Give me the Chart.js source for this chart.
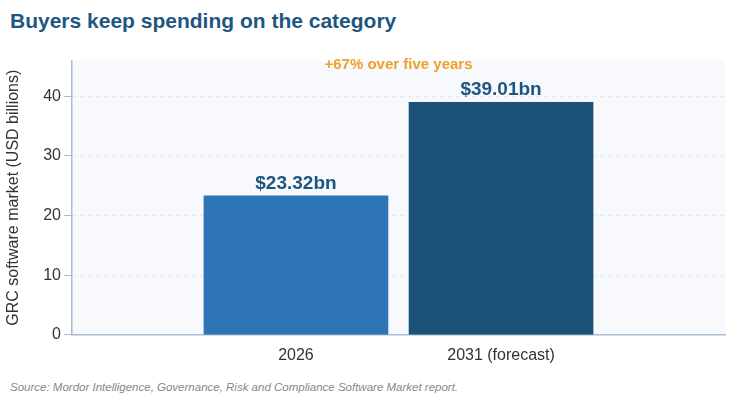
<!DOCTYPE html>
<html>
<head>
<meta charset="utf-8">
<script src="https://cdn.jsdelivr.net/npm/chart.js@4"></script>
<style>
  body { margin: 0; background: #fff; font-family: "Liberation Sans", Arial, sans-serif; }
  #wrap { position: relative; width: 743px; height: 400px; }
  h1 { position: absolute; left: 10px; top: 9px; margin: 0; font-size: 21px; font-weight: bold; color: #1f5680; }
  #box { position: absolute; left: 0; top: 48px; width: 735px; height: 320px; }
  .src { position: absolute; left: 10px; top: 381px; font-size: 11.5px; font-style: italic; color: #888; }
</style>
</head>
<body>
<div id="wrap">
  <h1>Buyers keep spending on the category</h1>
  <div id="box"><canvas id="c"></canvas></div>
  <div class="src">Source: Mordor Intelligence, Governance, Risk and Compliance Software Market report.</div>
</div>
<script>
const categories = ["2026", "2031 (forecast)"];
const marketValues = [23.32, 39.01];
const valueLabels = ["$23.32bn", "$39.01bn"];
const barColors = ["#2e75b6", "#1c5177"];
const yTicks = [0, 10, 20, 30, 40];
const growthNote = "+67% over five years";

const FONT = "'Liberation Sans', Arial, sans-serif";

// background + bar labels + note
const decor = {
  id: "decor",
  beforeDraw(chart) {
    const { ctx, chartArea: a } = chart;
    ctx.save();
    ctx.fillStyle = "#f7f9fc";
    ctx.fillRect(a.left, a.top, a.right - a.left, a.bottom - a.top);
    ctx.restore();
  },
  afterDatasetsDraw(chart) {
    const { ctx, chartArea: a } = chart;
    ctx.save();
    ctx.textAlign = "center";
    ctx.textBaseline = "bottom";
    ctx.font = "bold 19px " + FONT;
    ctx.fillStyle = "#1f5680";
    chart.getDatasetMeta(0).data.forEach((bar, i) => {
      ctx.fillText(valueLabels[i], bar.x, bar.y - 3);
    });
    ctx.font = "bold 15px " + FONT;
    ctx.fillStyle = "#f0a02a";
    ctx.textBaseline = "middle";
    ctx.fillText(growthNote, (a.left + a.right) / 2, a.top + 4);
    ctx.restore();
  }
};

new Chart(document.getElementById("c"), {
  type: "bar",
  data: {
    datasets: [{
      data: marketValues.map((v, i) => ({ x: i, y: v })),
      backgroundColor: barColors,
      barThickness: 184
    }]
  },
  options: {
    responsive: true,
    maintainAspectRatio: false,
    animation: false,
    layout: { padding: { top: 12, right: 10 } },
    plugins: { legend: { display: false }, tooltip: { enabled: false } },
    scales: {
      x: {
        type: "linear",
        min: -0.296,
        max: 1.296,
        afterBuildTicks: (s) => { s.ticks = categories.map((_, i) => ({ value: i })); },
        grid: { display: false },
        border: { color: "#a9bcd6", width: 1.5 },
        ticks: { color: "#333", font: { size: 16, family: FONT }, callback: (v) => categories[v] }
      },
      y: {
        min: 0,
        max: 46,
        afterBuildTicks: (s) => { s.ticks = yTicks.map((v) => ({ value: v })); },
        afterFit: (s) => { s.width = 72; },
        ticks: { color: "#333", font: { size: 16, family: FONT } },
        grid: { color: "#e3e9f1", tickColor: "#a9bcd6" },
        border: { color: "#a9bcd6", width: 1.5, dash: [4, 4] },
        title: { display: true, text: "GRC software market (USD billions)", color: "#333", font: { size: 16, family: FONT } }
      }
    }
  },
  plugins: [decor]
});
</script>
</body>
</html>
